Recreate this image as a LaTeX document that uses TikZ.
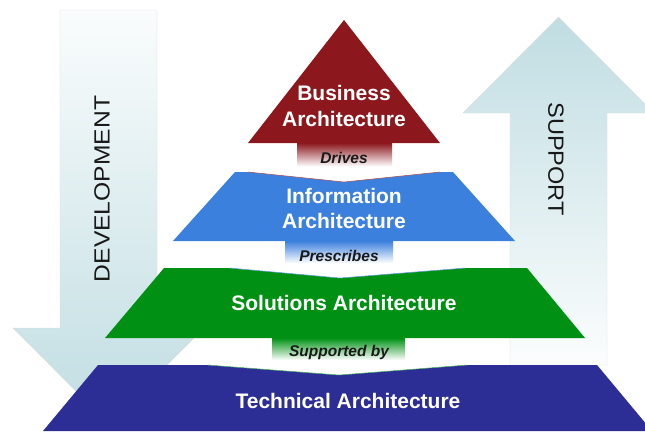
\documentclass[tikz,border=0pt]{standalone}
\usepackage{fontspec}
\setmainfont{Liberation Sans}
\definecolor{bizred}{RGB}{140,24,30}
\definecolor{infoblue}{RGB}{60,128,222}
\definecolor{solgreen}{RGB}{0,145,20}
\definecolor{technavy}{RGB}{45,45,150}
\definecolor{arrowteal}{RGB}{192,221,226}
\definecolor{darktext}{RGB}{25,25,25}
\pgfdeclareverticalshading{redfade}{100bp}{color(0bp)=(white); color(25bp)=(white); color(45bp)=(white); color(75bp)=(bizred); color(100bp)=(bizred)}
\pgfdeclareverticalshading{bluefade}{100bp}{color(0bp)=(white); color(25bp)=(white); color(45bp)=(white); color(75bp)=(infoblue); color(100bp)=(infoblue)}
\pgfdeclareverticalshading{greenfade}{100bp}{color(0bp)=(white); color(25bp)=(white); color(45bp)=(white); color(75bp)=(solgreen); color(100bp)=(solgreen)}
\begin{document}
\begin{tikzpicture}[x=1pt,y=-1pt,
  layertext/.style={text=white,font=\fontsize{21}{26}\selectfont\bfseries,align=center,inner sep=0pt},
  linktext/.style={text=darktext,font=\fontsize{15.5}{18}\selectfont\bfseries\itshape,inner sep=0pt},
  sidetext/.style={text=darktext,font=\fontsize{22}{26}\selectfont,inner sep=0pt},
  bigarrow/.style={draw=gray!25,line width=0.4pt}]
\useasboundingbox (0,0) rectangle (645,431);
\fill[white] (0,0) rectangle (645,431);
% side arrows
\shade[bigarrow,top color=arrowteal!8!white,bottom color=arrowteal]
  (60,10) -- (157,10) -- (157,328) -- (204,328) -- (108.5,424) -- (13,328) -- (60,328) -- cycle;
\shade[bigarrow,top color=arrowteal,bottom color=arrowteal!5!white]
  (510,365) -- (510,113) -- (463,113) -- (558.5,17) -- (654,113) -- (607,113) -- (607,365) -- cycle;
% pyramid layers
\fill[bizred] (344,20) -- (440,143) -- (248,143) -- cycle;
\fill[infoblue] (235,172) -- (453,172) -- (515,241) -- (173,241) -- cycle;
\fill[solgreen] (164,268) -- (527,268) -- (585,338) -- (105,338) -- cycle;
\fill[technavy] (98,365) -- (597,365) -- (652,431) -- (43,431) -- cycle;
% connectors
\shade[shading=redfade] (297,143) -- (392,143) -- (392,172) -- (440,172) -- (344,182) -- (248,172) -- (297,172) -- cycle;
\draw[bizred!80,line width=0.5pt] (248,172) -- (344,182) -- (440,172);
\shade[shading=bluefade] (285,241) -- (393,241) -- (393,268) -- (465,268) -- (340,278) -- (230,268) -- (285,268) -- cycle;
\draw[infoblue!80,line width=0.5pt] (230,268) -- (340,278) -- (465,268);
\shade[shading=greenfade] (272,338) -- (405,338) -- (405,365) -- (467,365) -- (339,375) -- (208,365) -- (272,365) -- cycle;
\draw[solgreen!70,line width=0.5pt] (208,365) -- (339,375) -- (467,365);
% texts
\node[layertext] (biz) at (344,106) {Business\\Architecture};
\node[layertext,font=\fontsize{21}{25}\selectfont\bfseries] (info) at (344,208.5) {Information\\Architecture};
\node[layertext] (sol) at (344,303) {Solutions Architecture};
\node[layertext] (tech) at (348,401) {Technical Architecture};
\node[linktext] (drives) at (344,158) {Drives};
\node[linktext] (prescribes) at (339,256) {Prescribes};
\node[linktext] (supported) at (339,352) {Supported by};
\node[sidetext,rotate=90] (dev) at (102,189) {\scalebox{1.12}[1]{DEVELOPMENT}};
\node[sidetext,rotate=-90] (sup) at (556,159) {\scalebox{1.07}[1]{SUPPORT}};
\end{tikzpicture}
\end{document}
